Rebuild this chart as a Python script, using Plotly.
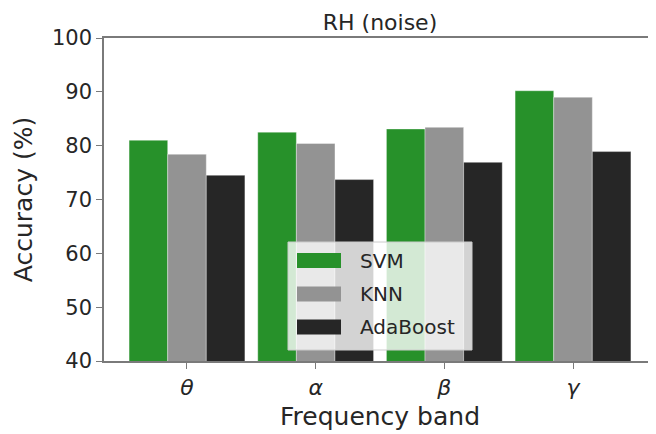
import plotly.graph_objects as go

bands = ["θ", "α", "β", "γ"]
svm = [81.0, 82.5, 83.1, 90.2]
knn = [78.4, 80.4, 83.4, 89.0]
ada = [74.5, 73.7, 76.9, 78.9]
series_names = ["SVM", "KNN", "AdaBoost"]
series_colors = ["#27912A", "#939393", "#262626"]
y_ticks = [40, 50, 60, 70, 80, 90, 100]

x_pos = list(range(len(bands)))
FONT = "DejaVu Sans"
TXT = "#262626"
SPINE = "#7a7a7a"

# page body has an 8px margin, so the figure is drawn 8px smaller and shifted
OFF = 8
FIG_W, FIG_H = 656 - OFF, 434 - OFF
# plot area in reference (window) pixels
L, R, T, B = 104, 656, 38, 361
W, H = R - L, B - T


def px(x):
    return (x - L) / W


def py(y):
    return (B - y) / H


fig = go.Figure()
for name, vals, col in zip(series_names, [svm, knn, ada], series_colors):
    fig.add_trace(go.Bar(
        x=x_pos, y=vals, name=name, showlegend=False,
        marker=dict(color=col, line=dict(color="rgba(255,255,255,0.35)", width=1)),
    ))

# legend drawn like the reference (wide patches)
shapes = [dict(type="rect", xref="paper", yref="paper",
               x0=px(288), x1=px(472), y0=py(350), y1=py(242),
               fillcolor="rgba(255,255,255,0.8)", line=dict(color="#cccccc", width=1),
               layer="above")]
annotations = []
row_centers = [260.5, 294, 327]
for name, col, yc in zip(series_names, series_colors, row_centers):
    shapes.append(dict(type="rect", xref="paper", yref="paper",
                       x0=px(297), x1=px(341), y0=py(yc + 7.5), y1=py(yc - 7.5),
                       fillcolor=col, line=dict(width=0), layer="above"))
    annotations.append(dict(text=name, xref="paper", yref="paper",
                            x=px(358), y=py(yc), xanchor="left", yanchor="middle",
                            showarrow=False, font=dict(family=FONT, size=20, color=TXT)))

fig.update_layout(
    width=FIG_W, height=FIG_H,
    margin=dict(l=L - OFF, r=0, t=T - OFF, b=FIG_H - (B - OFF), pad=0),
    paper_bgcolor="white", plot_bgcolor="white",
    font=dict(family=FONT, color=TXT, size=20),
    barmode="group", bargap=0.1, bargroupgap=0,
    title=dict(text="RH (noise)", x=(L - OFF + W / 2) / FIG_W, xanchor="center",
               y=1 - (22 - OFF) / FIG_H, yanchor="middle", yref="container",
               font=dict(family=FONT, size=22, color=TXT)),
    shapes=shapes, annotations=annotations,
    showlegend=False,
)
fig.update_xaxes(
    range=[-0.645, 3.645], automargin=False,
    tickmode="array", tickvals=x_pos, ticktext=["<i>%s</i>" % b for b in bands],
    showline=True, linecolor=SPINE, linewidth=1.5, mirror=True,
    ticks="outside", ticklen=6, tickcolor=SPINE, tickwidth=1.2,
    showgrid=False, zeroline=False,
    tickfont=dict(family=FONT, size=22, color=TXT),
    title=dict(text="Frequency band", font=dict(family=FONT, size=25, color=TXT), standoff=8),
)
fig.update_yaxes(
    range=[40, 100], automargin=False,
    tickmode="array", tickvals=y_ticks,
    showline=True, linecolor=SPINE, linewidth=1.5, mirror=False,
    ticks="outside", ticklen=6, tickcolor=SPINE, tickwidth=1.2,
    showgrid=False, zeroline=False,
    tickfont=dict(family=FONT, size=21, color=TXT),
    title=dict(text="Accuracy (%)", font=dict(family=FONT, size=25, color=TXT), standoff=12),
)

fig.write_html("out.html")
